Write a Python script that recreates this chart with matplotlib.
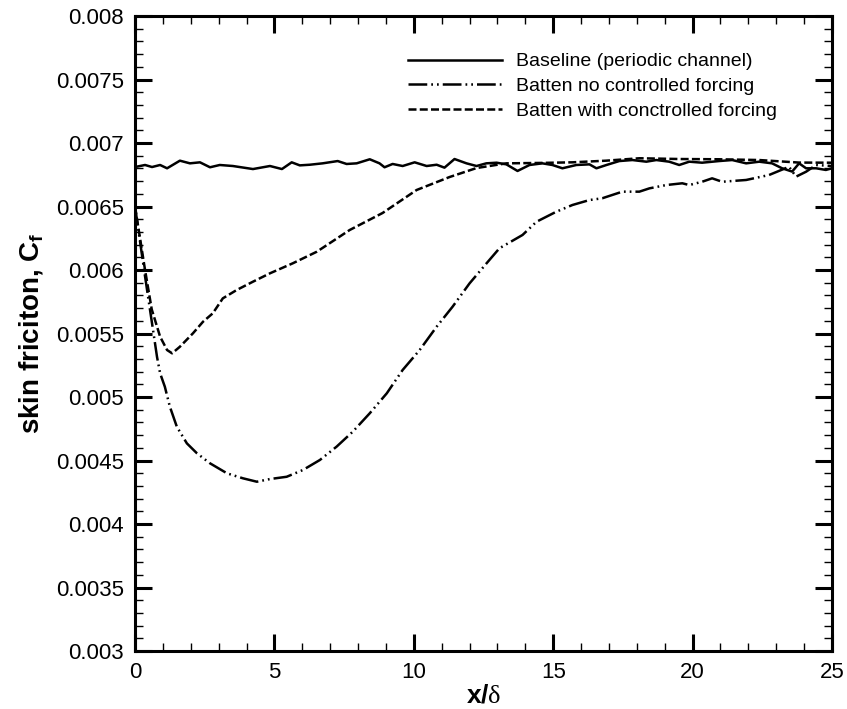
import numpy as np
import matplotlib
matplotlib.use("Agg")
import matplotlib.pyplot as plt
from matplotlib.ticker import MultipleLocator, FormatStrFormatter

plt.rcParams['font.family'] = ['Liberation Sans', 'DejaVu Sans']
plt.rcParams['mathtext.fontset'] = 'custom'
plt.rcParams['mathtext.rm'] = 'Liberation Serif'
plt.rcParams['mathtext.bf'] = 'Liberation Sans:bold'
plt.rcParams['mathtext.it'] = 'Liberation Sans:italic'

# Baseline (periodic channel)
xBase = [0.0, 0.36, 0.61, 0.9, 1.15, 1.61, 1.97, 2.33, 2.69, 3.04, 3.51, 4.23, 4.84,
         5.27, 5.62, 5.91, 6.27, 6.73, 7.27, 7.59, 7.95, 8.42, 8.77, 8.95, 9.24, 9.6,
         10.03, 10.46, 10.82, 11.1, 11.46, 11.89, 12.25, 12.6, 12.97, 13.32, 13.72,
         14.15, 14.61, 14.97, 15.33, 15.83, 16.3, 16.55, 16.91, 17.37, 17.84, 18.34,
         18.7, 19.16, 19.52, 19.88, 20.34, 20.95, 21.42, 21.92, 22.39, 22.85, 23.21,
         23.57, 23.82, 24.07, 24.43, 24.78, 25.0]
cfBase = [0.006811, 0.006827, 0.006811, 0.006827, 0.006801, 0.006861, 0.00684, 0.006848,
          0.006809, 0.006827, 0.006819, 0.006795, 0.006819, 0.006795, 0.006848, 0.006824,
          0.006829, 0.00684, 0.006858, 0.006835, 0.00684, 0.006872, 0.00684, 0.006809,
          0.006835, 0.006819, 0.006848, 0.006819, 0.006829, 0.006806, 0.006874, 0.00684,
          0.006819, 0.00684, 0.006845, 0.006832, 0.00678, 0.006827, 0.00684, 0.006827,
          0.006801, 0.006827, 0.006832, 0.006801, 0.006827, 0.006858, 0.006866, 0.006853,
          0.006866, 0.006853, 0.006827, 0.006853, 0.006845, 0.006858, 0.006866, 0.00684,
          0.006853, 0.00684, 0.006801, 0.006775, 0.00684, 0.006801, 0.006801, 0.006788,
          0.006801]

# Batten no controlled forcing
xNoCtrl = [0.0, 0.36, 0.79, 0.9, 1.07, 1.25, 1.5, 1.86, 2.22, 2.69, 3.3, 3.87, 4.37, 4.84,
           5.44, 6.02, 6.63, 7.23, 7.81, 8.42, 9.03, 9.6, 10.21, 10.82, 11.39, 12.0, 12.61,
           13.07, 13.9, 14.4, 15.11, 15.69, 16.3, 16.76, 17.48, 18.09, 18.45, 19.05, 19.63,
           19.88, 20.34, 20.7, 21.06, 21.92, 22.74, 23.46, 23.71, 24.07, 24.43, 25.0]
cfNoCtrl = [0.0065, 0.00595, 0.005315, 0.005187, 0.005081, 0.004924, 0.004766, 0.004635,
            0.004557, 0.004478, 0.004399, 0.00436, 0.004333, 0.004354, 0.004372, 0.004425,
            0.004504, 0.004609, 0.004727, 0.004872, 0.005029, 0.005213, 0.00537, 0.005554,
            0.005711, 0.005895, 0.006053, 0.006171, 0.006276, 0.00638, 0.006459, 0.006512,
            0.006551, 0.006565, 0.006617, 0.006617, 0.006643, 0.006669, 0.006683, 0.006669,
            0.006695, 0.006722, 0.006695, 0.006709, 0.006748, 0.006813, 0.006735, 0.006774,
            0.006827, 0.006819]

# Batten with controlled forcing
xCtrl = [0.0, 0.36, 0.6, 0.9, 1.15, 1.33, 1.61, 2.08, 2.44, 2.79, 3.15, 3.65, 4.23, 4.84,
         5.66, 6.52, 7.7, 8.88, 10.1, 11.28, 12.25, 13.32, 14.5, 15.69, 16.9, 18.09, 19.52,
         20.95, 22.39, 23.82, 25.0]
cfCtrl = [0.0065, 0.0060, 0.00569, 0.005475, 0.00537, 0.005344, 0.005396, 0.005502,
          0.005593, 0.005659, 0.005777, 0.005843, 0.005908, 0.005974, 0.006053, 0.006144,
          0.006315, 0.006449, 0.00663, 0.006732, 0.006803, 0.00684, 0.006843, 0.006848,
          0.006861, 0.00688, 0.006874, 0.006872, 0.006866, 0.006846, 0.006845]

labels = ['Baseline (periodic channel)', 'Batten no controlled forcing',
          'Batten with conctrolled forcing']

fig = plt.figure(figsize=(8.47, 7.09), dpi=100)
ax = fig.add_axes([0.1594, 0.0818, 0.8229, 0.8956])

lw = 1.8
ax.plot(xBase, cfBase, color='black', lw=lw, ls='-', label=labels[0])
ax.plot(xNoCtrl, cfNoCtrl, color='black', lw=lw,
        ls=(0, (7.5, 1.6, 0.7, 1.6, 0.7, 1.6)), label=labels[1])
ax.plot(xCtrl, cfCtrl, color='black', lw=lw, ls=(0, (3.2, 1.3)), label=labels[2])

ax.set_xlim(0, 25)
ax.set_ylim(0.003, 0.008)
ax.xaxis.set_major_locator(MultipleLocator(5))
ax.xaxis.set_minor_locator(MultipleLocator(1))
ax.yaxis.set_major_locator(MultipleLocator(0.0005))
ax.yaxis.set_minor_locator(MultipleLocator(0.0001))
ax.yaxis.set_major_formatter(FormatStrFormatter('%g'))
ax.xaxis.set_major_formatter(FormatStrFormatter('%g'))

ax.tick_params(which='both', direction='in', top=True, right=True, labelsize=16)
ax.tick_params(which='major', length=12, width=2.2, pad=8)
ax.tick_params(which='minor', length=6, width=1.0)
for s in ax.spines.values():
    s.set_linewidth(2.2)

ax.set_ylabel(r'skin friciton, C$_\mathbf{f}$', fontsize=20, fontweight='bold', labelpad=8)
ax.set_xlabel(r'$\mathbf{x/}\mathrm{\delta}$', fontsize=19, labelpad=0)

leg = ax.legend(loc='upper left', frameon=False, fontsize=14, handlelength=4.8,
                handletextpad=0.75, labelspacing=0.36, borderpad=0, borderaxespad=0,
                bbox_to_anchor=(0.392, 0.942))

fig.savefig('out.png', dpi=100)
